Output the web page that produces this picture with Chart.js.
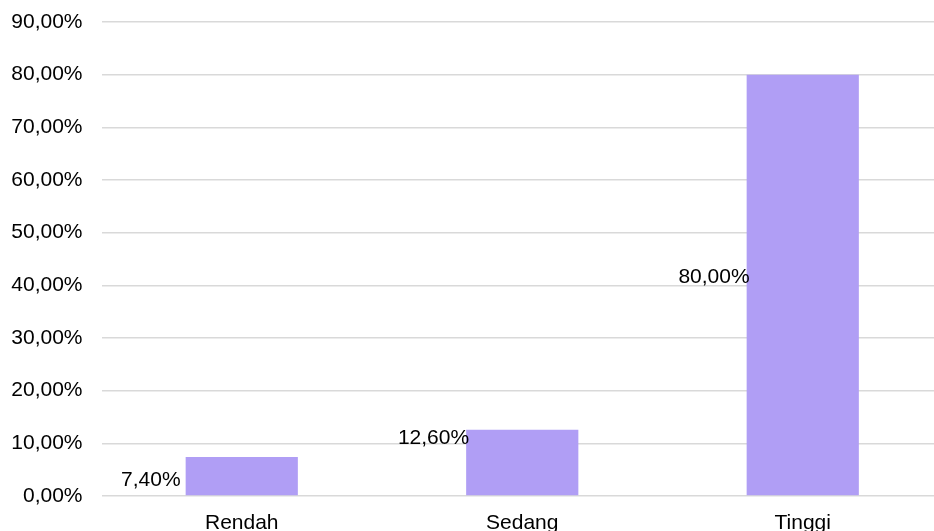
<!DOCTYPE html>
<html>
<head>
<meta charset="utf-8">
<script src="https://cdn.jsdelivr.net/npm/chart.js@4.4.0/dist/chart.umd.min.js"></script>
<style>
    html, body { margin: 0; padding: 0; background: #fff; overflow: hidden; }
    #wrap { width: 943px; height: 531px; }
</style>
</head>
<body>
<div id="wrap"><canvas id="barChart" width="943" height="531"></canvas></div>
<script>
// chart data
const categories = ["Rendah", "Sedang", "Tinggi"];
const percentValues = [7.4, 12.6, 80.0];
const yTickValues = [0, 10, 20, 30, 40, 50, 60, 70, 80, 90];

const FONT = "'Liberation Sans', Arial, sans-serif";

function fmtPercent(v) {
    return v.toFixed(2).replace(".", ",") + "%";
}

// draws the value labels to the left of each bar (like the original)
const barLabels = {
    id: "barLabels",
    afterDatasetsDraw(chart, args, opts) {
        const ctx = chart.ctx;
        const meta = chart.getDatasetMeta(0);
        ctx.save();
        ctx.font = "21px " + FONT;
        ctx.fillStyle = "#000";
        ctx.textAlign = "right";
        ctx.textBaseline = "middle";
        meta.data.forEach((bar, i) => {
            const left = bar.x - bar.width / 2;
            ctx.fillText(fmtPercent(percentValues[i]), left + opts.dx[i], bar.y + opts.dy[i]);
        });
        ctx.restore();
    }
};

const ctx = document.getElementById("barChart").getContext("2d");

new Chart(ctx, {
    type: "bar",
    data: {
        labels: categories,
        datasets: [{
            data: percentValues,
            backgroundColor: "#b09ef5",
            borderWidth: 0,
            categoryPercentage: 1.0,
            barPercentage: 0.4
        }]
    },
    options: {
        responsive: false,
        animation: false,
        layout: { padding: { top: 22, right: 0, bottom: 0, left: 0 } },
        plugins: {
            legend: { display: false },
            tooltip: { enabled: false },
            barLabels: { dx: [-5, 3, 3], dy: [23, 9, 203] }
        },
        scales: {
            x: {
                grid: { display: false, drawTicks: false },
                border: { display: false },
                ticks: {
                    color: "#000",
                    padding: 15,
                    font: { family: FONT, size: 21 }
                },
                afterFit(scale) {
                    scale.height = 35;
                    scale.paddingLeft = 0;
                    scale.paddingRight = 0;
                }
            },
            y: {
                min: 0,
                max: 90,
                afterBuildTicks(scale) {
                    scale.ticks = yTickValues.map(v => ({ value: v }));
                },
                grid: { color: "#d9d9d9", lineWidth: 1.5, drawTicks: false },
                border: { display: false },
                ticks: {
                    color: "#000",
                    padding: 19,
                    font: { family: FONT, size: 21 },
                    callback: v => fmtPercent(v)
                },
                afterFit(scale) {
                    scale.width = 101.5;
                    scale.paddingTop = 0;
                    scale.paddingBottom = 0;
                }
            }
        }
    },
    plugins: [barLabels]
});
</script>
</body>
</html>
